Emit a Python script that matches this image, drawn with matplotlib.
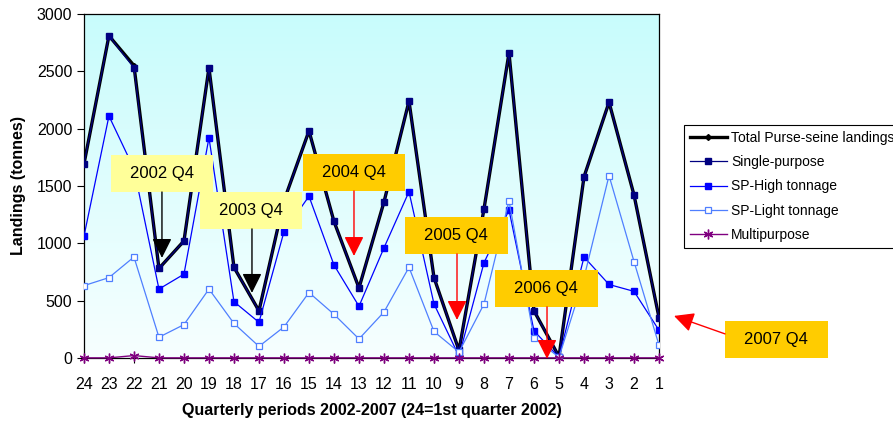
import matplotlib
matplotlib.use("Agg")
import matplotlib.pyplot as plt
import matplotlib.patches as patches
import numpy as np

plt.rcParams['font.family'] = ['Liberation Sans', 'DejaVu Sans']

# quarterly periods, 24 = 1st quarter 2002
periods = list(range(24, 0, -1))

total = [1690, 2810, 2550, 780, 1020, 2530, 790, 410, 1370, 1980, 1190, 610,
         1360, 2240, 700, 65, 1300, 2660, 410, 10, 1580, 2230, 1420, 350]
single = [1690, 2810, 2530, 780, 1020, 2530, 790, 410, 1370, 1980, 1190, 610,
          1360, 2240, 700, 65, 1300, 2660, 410, 10, 1580, 2230, 1420, 350]
high = [1060, 2110, 1650, 600, 730, 1920, 490, 310, 1100, 1410, 810, 450,
        960, 1450, 470, 15, 830, 1290, 235, 5, 880, 640, 580, 240]
light = [630, 700, 880, 180, 290, 600, 300, 100, 270, 570, 380, 165,
         400, 790, 230, 50, 470, 1370, 175, 5, 700, 1590, 840, 110]
multi = [0, 0, 20, 0, 0, 0, 0, 0, 0, 0, 0, 0,
         0, 0, 0, 0, 0, 0, 0, 0, 0, 0, 0, 0]

x = np.arange(len(periods))

fig = plt.figure(figsize=(8.93, 4.24), dpi=100)
ax = fig.add_axes([0.094, 0.156, 0.644, 0.811])

# background gradient, cyan on top fading to white
grad = np.linspace(0, 1, 256).reshape(-1, 1)
from matplotlib.colors import LinearSegmentedColormap
cmap = LinearSegmentedColormap.from_list("bg", ["#F7FFFF", "#C8FCFC"])
ax.imshow(grad, extent=[0, 1, 0, 1], transform=ax.transAxes, aspect='auto',
          cmap=cmap, origin='lower', zorder=0)

ax.plot(x, total, color='black', lw=2.4, marker='D', ms=3, label='Total Purse-seine landings', zorder=3)
ax.plot(x, single, color='#000080', lw=0.9, marker='s', ms=5, label='Single-purpose', zorder=3)
ax.plot(x, high, color='#0000FF', lw=0.9, marker='s', ms=5, label='SP-High tonnage', zorder=3)
ax.plot(x, light, color='#4F7FFF', lw=0.9, marker='s', ms=5, mfc='white', mec='#4F7FFF', mew=0.9,
        label='SP-Light tonnage', zorder=3)
ax.plot(x, multi, color='#800080', lw=1.0, marker=(6, 2, 0), ms=7, mew=1.0, label='Multipurpose',
        zorder=3, clip_on=False)

ax.set_xlim(0, 23)
ax.set_ylim(0, 3000)
ax.set_yticks(range(0, 3001, 500))
ax.set_xticks(x)
ax.set_xticklabels([str(p) for p in periods])
ax.tick_params(axis='y', labelsize=11.5, length=5, width=0.8)
ax.tick_params(axis='x', labelsize=11.5, length=3.5, width=0.8, pad=10)
for s in ax.spines.values():
    s.set_linewidth(0.9)

ax.set_ylabel('Landings (tonnes)', fontsize=11.5, fontweight='bold', labelpad=8)
ax.set_xlabel('Quarterly periods 2002-2007 (24=1st quarter 2002)', fontsize=11.5,
              fontweight='bold', labelpad=8)

# year-end annotations: label, box left, box bottom, arrow start, arrow end, colours
notes = [
    ("2002 Q4", 1.08, 1447, (3.12, 1447), (3.12, 872), '#FFFF99', 'black'),
    ("2003 Q4", 4.64, 1125, (6.72, 1125), (6.72, 567), '#FFFF99', 'black'),
    ("2004 Q4", 8.76, 1456, (10.8, 1456), (10.8, 889), '#FFCC00', 'red'),
    ("2005 Q4", 12.84, 907, (14.92, 907), (14.92, 331), '#FFCC00', 'red'),
    ("2006 Q4", 16.44, 445, (18.52, 445), (18.52, -9), '#FFCC00', 'red'),
    ("2007 Q4", 25.64, 0, (25.64, 209), (23.6, 366), '#FFCC00', 'red'),
]
bw, bh = 4.1, 325
for label, bx, by, start, end, fc, ac in notes:
    ax.add_patch(patches.Rectangle((bx, by), bw, bh, facecolor=fc, edgecolor='none',
                                   zorder=4, clip_on=False))
    ax.text(bx + bw / 2, by + bh / 2, label, ha='center', va='center', fontsize=12,
            zorder=5, clip_on=False)
    arr = patches.FancyArrowPatch(start, end, arrowstyle='-|>,head_length=0.6,head_width=0.3',
                                  mutation_scale=20, color=ac, lw=1.0, shrinkA=0, shrinkB=0,
                                  zorder=6, clip_on=False)
    ax.add_patch(arr)

leg = fig.legend(loc='upper left', bbox_to_anchor=(0.766, 0.705), fontsize=10,
                 fancybox=False, framealpha=1, edgecolor='black', handlelength=2.7,
                 labelspacing=0.75, borderpad=0.4, handletextpad=0.3, borderaxespad=0)
leg.get_frame().set_linewidth(0.8)

fig.savefig('out.png', dpi=100)
